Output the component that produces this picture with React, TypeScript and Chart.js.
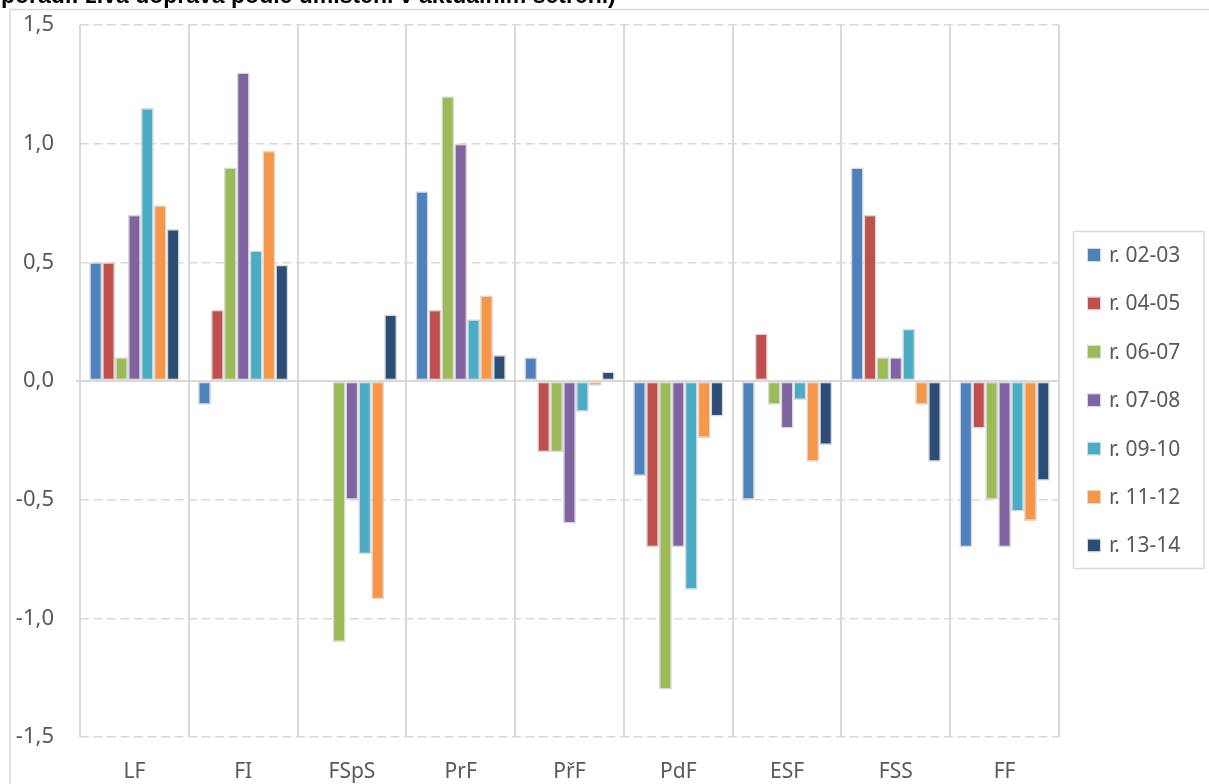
import React, { useEffect, useRef } from "react";
import { Chart, registerables } from "chart.js";

Chart.register(...registerables);

const categories = ["LF", "FI", "FSpS", "PrF", "PřF", "PdF", "ESF", "FSS", "FF"];
const seriesNames = ["r. 02-03", "r. 04-05", "r. 06-07", "r. 07-08", "r. 09-10", "r. 11-12", "r. 13-14"];
const seriesColors = ["#4F81BD", "#C0504D", "#9BBB59", "#8064A2", "#4BACC6", "#F79646", "#2C4D75"];

const r0203 = [0.5, -0.1, 0, 0.8, 0.1, -0.4, -0.5, 0.9, -0.7];
const r0405 = [0.5, 0.3, 0, 0.3, -0.3, -0.7, 0.2, 0.7, -0.2];
const r0607 = [0.1, 0.9, -1.1, 1.2, -0.3, -1.3, -0.1, 0.1, -0.5];
const r0708 = [0.7, 1.3, -0.5, 1.0, -0.6, -0.7, -0.2, 0.1, -0.7];
const r0910 = [1.15, 0.55, -0.73, 0.26, -0.13, -0.88, -0.08, 0.22, -0.55];
const r1112 = [0.74, 0.97, -0.92, 0.36, -0.02, -0.24, -0.34, -0.1, -0.59];
const r1314 = [0.64, 0.49, 0.28, 0.11, 0.04, -0.15, -0.27, -0.34, -0.42];

const seriesValues = [r0203, r0405, r0607, r0708, r0910, r1112, r1314];

const titleText = "pořadí: živá doprava podle umístění v aktuálním šetření)";
const yMin = -1.5;
const yMax = 1.5;
const yStep = 0.5;

const FONT = "'Noto Sans', sans-serif";
const GRID = "#d9d9d9";
const TEXT = "#595959";

const framePlugin = {
  id: "frame",
  beforeDraw(chart: any) {
    const ctx = chart.ctx;
    ctx.save();
    ctx.fillStyle = "#ffffff";
    ctx.fillRect(0, 0, chart.width, chart.height);
    ctx.strokeStyle = GRID;
    ctx.lineWidth = 1.5;
    ctx.strokeRect(10, 9.5, chart.width + 50, chart.height + 50);
    ctx.fillStyle = "#000000";
    ctx.font = "bold 23px 'Liberation Sans', Arial, sans-serif";
    ctx.textBaseline = "alphabetic";
    ctx.textAlign = "left";
    ctx.fillText(titleText, 1, 3);
    ctx.restore();
  },
};

const zeroLinePlugin = {
  id: "zeroLine",
  beforeDatasetsDraw(chart: any) {
    const y = chart.scales.y.getPixelForValue(0);
    const { left, right } = chart.chartArea;
    const ctx = chart.ctx;
    ctx.save();
    ctx.strokeStyle = GRID;
    ctx.lineWidth = 2;
    ctx.beginPath();
    ctx.moveTo(left - 4, y);
    ctx.lineTo(right, y);
    ctx.stroke();
    ctx.restore();
  },
};

const legendPlugin = {
  id: "boxLegend",
  afterDraw(chart: any) {
    const ctx = chart.ctx;
    const x0 = 1073.5;
    const y0 = 231.5;
    const w = 130.5;
    const h = 337;
    ctx.save();
    ctx.strokeStyle = GRID;
    ctx.lineWidth = 1.5;
    ctx.strokeRect(x0, y0, w, h);
    const rowStart = 255;
    const rowGap = 48.4;
    ctx.font = `21px ${FONT}`;
    ctx.textBaseline = "middle";
    ctx.textAlign = "left";
    chart.data.datasets.forEach((ds: any, i: number) => {
      const cy = rowStart + i * rowGap;
      ctx.fillStyle = ds.backgroundColor;
      ctx.fillRect(1088, cy - 6, 12, 12);
      ctx.strokeStyle = GRID;
      ctx.lineWidth = 1;
      ctx.strokeRect(1087.5, cy - 6.5, 13, 13);
      ctx.fillStyle = TEXT;
      ctx.fillText(ds.label, 1109, cy + 1);
    });
    ctx.restore();
  },
};

export default function App() {
  const ref = useRef<HTMLCanvasElement | null>(null);

  useEffect(() => {
    if (!ref.current) return;
    const chart = new Chart(ref.current, {
      type: "bar",
      data: {
        labels: categories,
        datasets: seriesNames.map((name, i) => ({
          label: name,
          data: seriesValues[i],
          backgroundColor: seriesColors[i],
          borderColor: GRID,
          borderWidth: 1.5,
          borderSkipped: false,
          categoryPercentage: 0.83,
          barPercentage: 1,
        })),
      },
      options: {
        animation: false,
        responsive: false,
        maintainAspectRatio: false,
        layout: { padding: { left: 0, right: 150, top: 25, bottom: 0 } },
        plugins: {
          legend: { display: false },
          tooltip: { enabled: false },
        },
        scales: {
          x: {
            grid: {
              display: true,
              offset: true,
              color: GRID,
              lineWidth: 2,
              drawTicks: false,
            },
            border: { display: false },
            ticks: {
              color: TEXT,
              font: { family: FONT, size: 21 },
              padding: 22,
              maxRotation: 0,
              autoSkip: false,
            },
            afterFit(scale: any) {
              scale.height = 47;
              scale.paddingLeft = 0;
              scale.paddingRight = 0;
            },
          },
          y: {
            min: yMin,
            max: yMax,
            grid: {
              color: GRID,
              lineWidth: 1.5,
              drawTicks: false,
            },
            border: { display: false, dash: [9, 4.5] },
            ticks: {
              stepSize: yStep,
              color: TEXT,
              font: { family: FONT, size: 22 },
              padding: 26,
              callback: (v: any) => Number(v).toFixed(1).replace(".", ","),
            },
            afterFit(scale: any) {
              scale.width = 80;
              scale.paddingTop = 0;
              scale.paddingBottom = 0;
            },
          },
        },
      },
      plugins: [framePlugin, zeroLinePlugin, legendPlugin],
    });
    return () => chart.destroy();
  }, []);

  return (
    <div style={{ position: "fixed", left: 0, top: 0, width: 1209, height: 784, background: "#fff" }}>
      <canvas ref={ref} width={1209} height={784} style={{ display: "block" }} />
    </div>
  );
}
